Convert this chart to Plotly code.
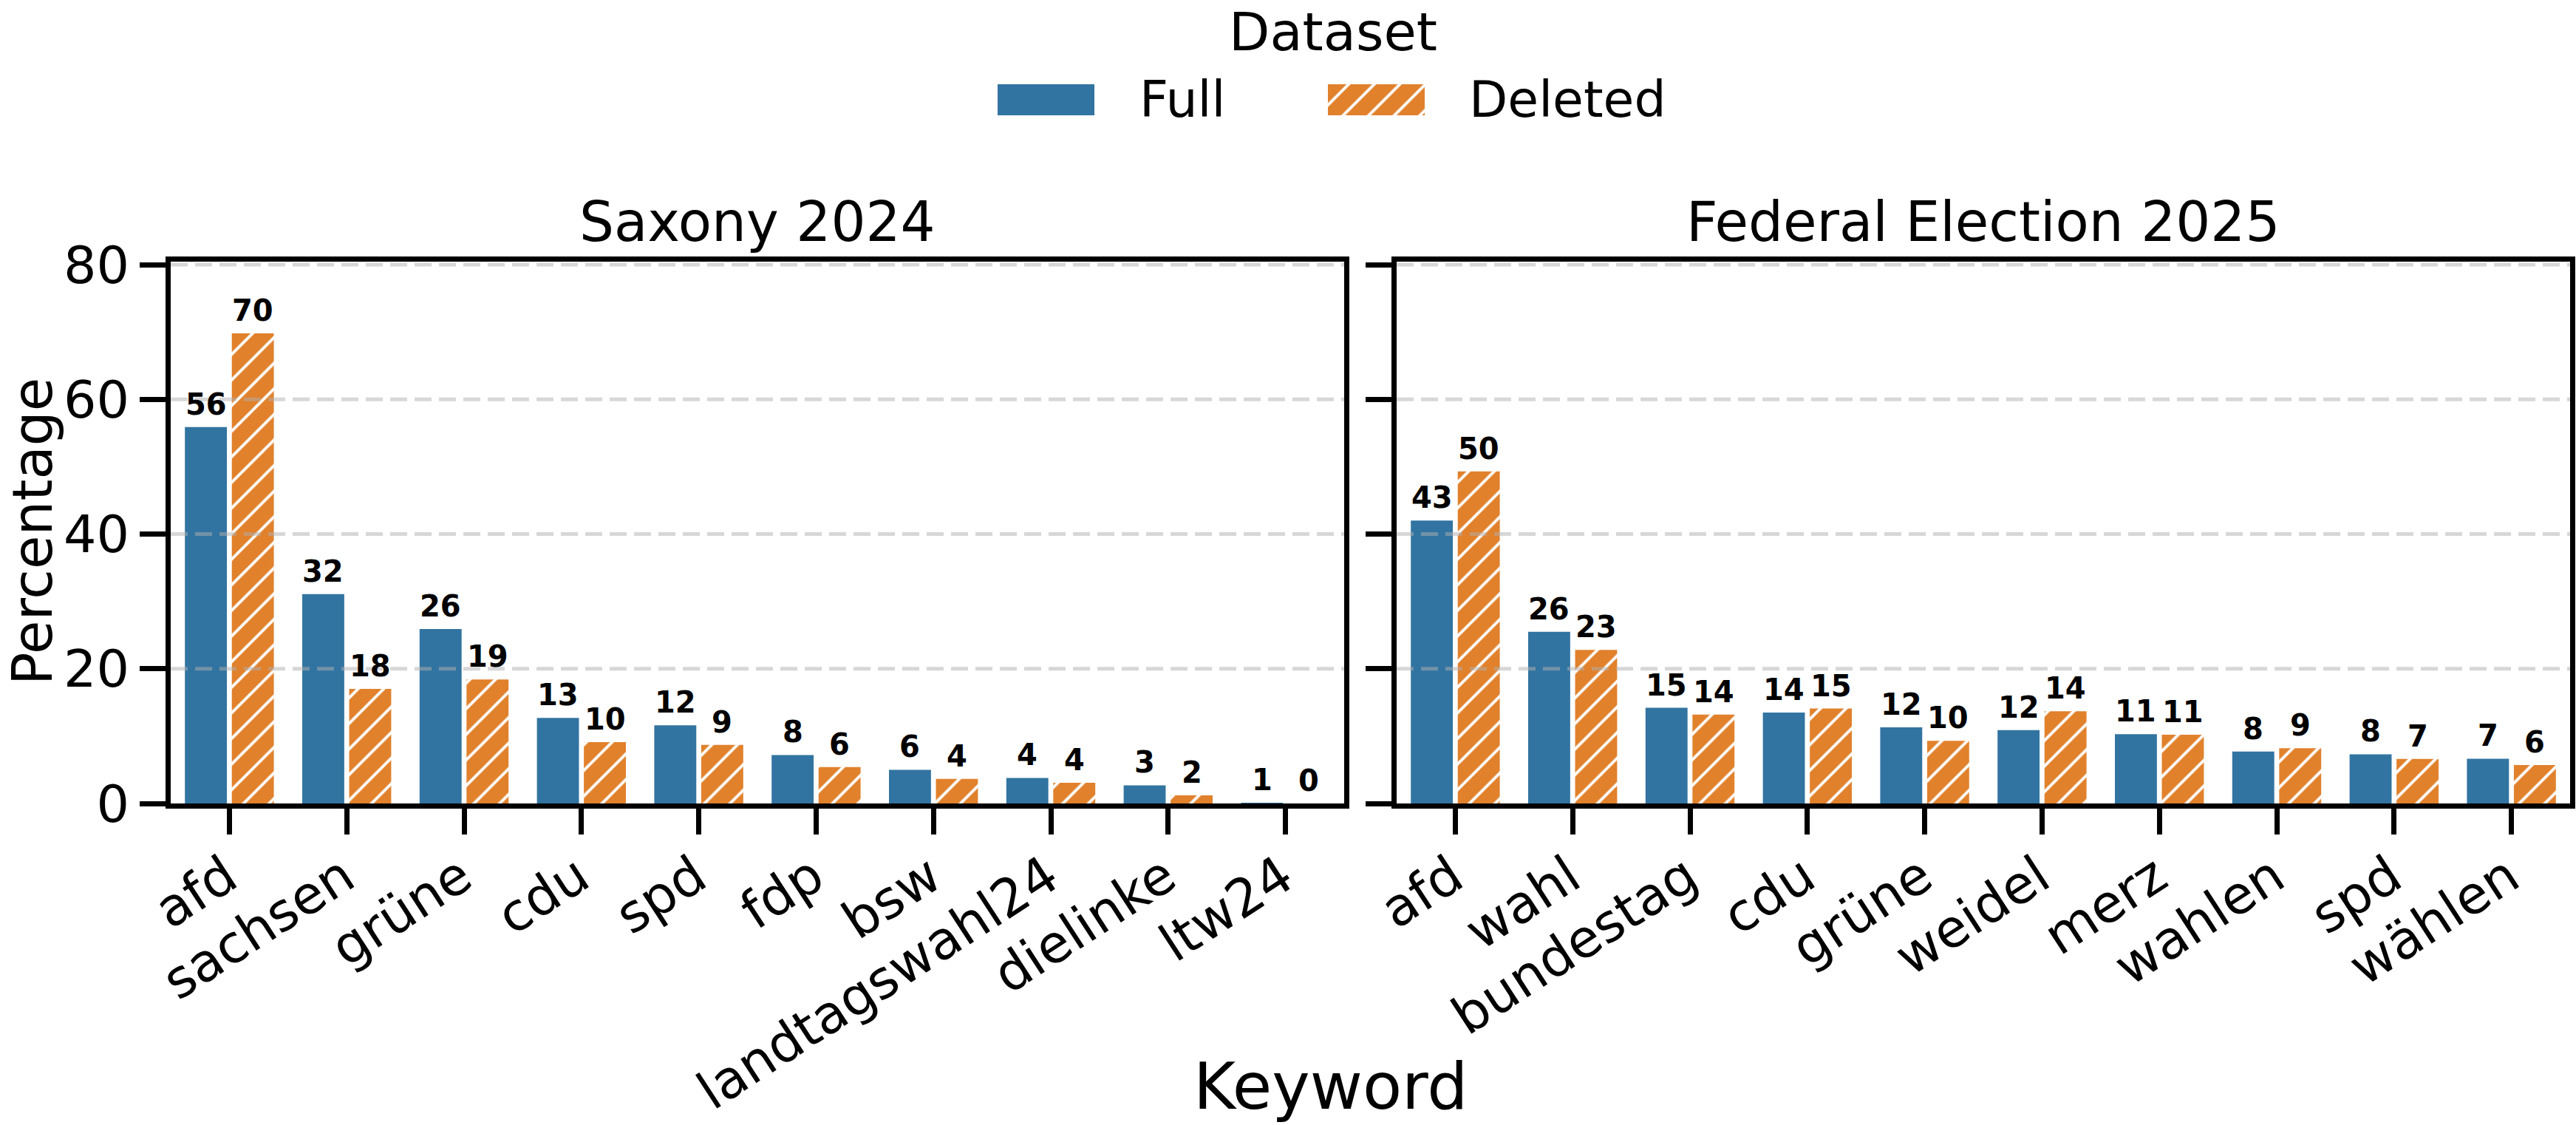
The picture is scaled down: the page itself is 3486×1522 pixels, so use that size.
import plotly.graph_objects as go

W, H = 3486, 1522

# ---------------- data ----------------
saxony_keywords = ["afd", "sachsen", "grüne", "cdu", "spd", "fdp", "bsw",
                   "landtagswahl24", "dielinke", "ltw24"]
saxony_full = [55.9, 31.1, 25.9, 12.7, 11.6, 7.2, 5.0, 3.8, 2.7, 0.08]
saxony_deleted = [69.8, 17.0, 18.4, 9.1, 8.7, 5.4, 3.65, 3.07, 1.2, 0.0]
saxony_full_labels = [56, 32, 26, 13, 12, 8, 6, 4, 3, 1]
saxony_deleted_labels = [70, 18, 19, 10, 9, 6, 4, 4, 2, 0]

federal_keywords = ["afd", "wahl", "bundestag", "cdu", "grüne", "weidel",
                    "merz", "wahlen", "spd", "wählen"]
federal_full = [42.0, 25.5, 14.2, 13.5, 11.3, 10.9, 10.3, 7.7, 7.3, 6.65]
federal_deleted = [49.3, 22.8, 13.2, 14.1, 9.3, 13.7, 10.2, 8.2, 6.6, 5.7]
federal_full_labels = [43, 26, 15, 14, 12, 12, 11, 8, 8, 7]
federal_deleted_labels = [50, 23, 14, 15, 10, 14, 11, 9, 7, 6]

panel_titles = ["Saxony 2024", "Federal Election 2025"]
series_names = ["Full", "Deleted"]
y_ticks = [0, 20, 40, 60, 80]

# ---------------- style ----------------
FULL_C = "#3274A1"
DEL_C = "#E1812C"
FONT = "DejaVu Sans"
GRID_C = "rgba(176,176,176,0.5)"
BARGAP = 0.2
GROUPGAP = 0.105
HALF_SLOT = (1 - BARGAP) / 4


def fx(px):
    return px / W


def fy(py):
    return 1 - py / H


Y_TOP = 80.45
panels = [
    dict(xa="x", ya="y", dom=[fx(231), fx(1819)], kw=saxony_keywords,
         full=saxony_full, dele=saxony_deleted,
         fl=saxony_full_labels, dl=saxony_deleted_labels),
    dict(xa="x2", ya="y2", dom=[fx(1890), fx(3478)], kw=federal_keywords,
         full=federal_full, dele=federal_deleted,
         fl=federal_full_labels, dl=federal_deleted_labels),
]
YDOM = [fy(1087), fy(354)]

pattern = dict(shape="/", fgcolor="white", bgcolor=DEL_C, size=24.5,
               solidity=0.16, fillmode="replace")

fig = go.Figure()
annotations = []
shapes = []

for p in panels:
    idx = list(range(len(p["kw"])))
    fig.add_trace(go.Bar(x=idx, y=p["full"], name=series_names[0],
                         marker=dict(color=FULL_C, line=dict(width=0)),
                         xaxis=p["xa"], yaxis=p["ya"], showlegend=False))
    fig.add_trace(go.Bar(x=idx, y=p["dele"], name=series_names[1],
                         marker=dict(color=DEL_C, line=dict(width=0),
                                     pattern=pattern),
                         xaxis=p["xa"], yaxis=p["ya"], showlegend=False))
    for vals, labs, sgn in ((p["full"], p["fl"], -1), (p["dele"], p["dl"], 1)):
        for i, (v, t) in enumerate(zip(vals, labs)):
            annotations.append(dict(
                x=i + sgn * HALF_SLOT, y=v, xref=p["xa"], yref=p["ya"],
                text=f"<b>{t}</b>", showarrow=False, yanchor="bottom",
                xanchor="center", yshift=6,
                font=dict(size=40, family=FONT, color="black")))
    # dashed grid lines drawn above the bars
    for t in y_ticks[1:]:
        shapes.append(dict(type="line", xref=f"{p['xa']} domain", yref=p["ya"],
                           x0=0, x1=1, y0=t, y1=t, layer="above",
                           line=dict(color=GRID_C, width=5, dash="23px,10px")))

# legend swatches on a helper axis
fig.add_trace(go.Bar(x=[1350], y=[1], width=131, offset=0,
                     marker=dict(color=FULL_C, line=dict(width=0)),
                     xaxis="x3", yaxis="y3", showlegend=False, hoverinfo="skip"))
fig.add_trace(go.Bar(x=[1797], y=[1], width=131, offset=0,
                     marker=dict(color=DEL_C, line=dict(width=0), pattern=pattern),
                     xaxis="x3", yaxis="y3", showlegend=False, hoverinfo="skip"))

# titles and labels
annotations += [
    dict(x=(panels[0]["dom"][0] + panels[0]["dom"][1]) / 2, y=fy(300), xref="paper", yref="paper",
         text=panel_titles[0], showarrow=False, xanchor="center", yanchor="middle",
         font=dict(size=74, family=FONT, color="black")),
    dict(x=(panels[1]["dom"][0] + panels[1]["dom"][1]) / 2, y=fy(300), xref="paper", yref="paper",
         text=panel_titles[1], showarrow=False, xanchor="center", yanchor="middle",
         font=dict(size=74, family=FONT, color="black")),
    dict(x=fx(1801), y=fy(1470), xref="paper", yref="paper", text="Keyword",
         showarrow=False, xanchor="center", yanchor="middle",
         font=dict(size=87, family=FONT, color="black")),
    dict(x=fx(44), y=fy(719), xref="paper", yref="paper", text="Percentage",
         showarrow=False, xanchor="center", yanchor="middle", textangle=-90,
         font=dict(size=74, family=FONT, color="black")),
    dict(x=fx(1804), y=fy(43), xref="paper", yref="paper", text="Dataset",
         showarrow=False, xanchor="center", yanchor="middle",
         font=dict(size=72, family=FONT, color="black")),
    dict(x=fx(1540), y=fy(134), xref="paper", yref="paper", text=series_names[0],
         showarrow=False, xanchor="left", yanchor="middle",
         font=dict(size=68, family=FONT, color="black")),
    dict(x=fx(1986), y=fy(134), xref="paper", yref="paper", text=series_names[1],
         showarrow=False, xanchor="left", yanchor="middle",
         font=dict(size=68, family=FONT, color="black")),
]


def xaxis(p):
    return dict(domain=p["dom"], anchor=p["ya"], range=[-0.5, len(p["kw"]) - 0.5],
                tickmode="array", tickvals=list(range(len(p["kw"]))), ticktext=p["kw"],
                tickangle=-33, tickfont=dict(size=71, family=FONT, color="black"),
                ticklabelstandoff=-12, ticklabelshift=-4,
                showline=True, linewidth=7, linecolor="black", mirror=True,
                ticks="outside", ticklen=35, tickwidth=7, tickcolor="black",
                showgrid=False, zeroline=False, automargin=False, fixedrange=True)


def yaxis(p, labels):
    return dict(domain=YDOM, anchor=p["xa"], range=[0, Y_TOP],
                tickmode="array", tickvals=y_ticks, ticktext=[str(t) for t in y_ticks],
                showticklabels=labels,
                tickfont=dict(size=70, family=FONT, color="black"),
                showline=True, linewidth=7, linecolor="black", mirror=True,
                ticks="outside", ticklen=35, tickwidth=7, tickcolor="black",
                showgrid=False, zeroline=False, automargin=False, fixedrange=True)


fig.update_layout(
    width=W, height=H,
    margin=dict(l=0, r=0, t=0, b=0, autoexpand=False),
    paper_bgcolor="white", plot_bgcolor="white",
    barmode="group", bargap=BARGAP, bargroupgap=GROUPGAP,
    showlegend=False,
    font=dict(family=FONT, color="black"),
    xaxis=xaxis(panels[0]), yaxis=yaxis(panels[0], True),
    xaxis2=xaxis(panels[1]), yaxis2=yaxis(panels[1], False),
    xaxis3=dict(domain=[fx(1340), fx(1940)], anchor="y3", range=[1340, 1940],
                visible=False, fixedrange=True),
    yaxis3=dict(domain=[fy(156), fy(114)], anchor="x3", range=[0, 1],
                visible=False, fixedrange=True),
    annotations=annotations,
    shapes=shapes,
)

fig.write_html("out.html")
